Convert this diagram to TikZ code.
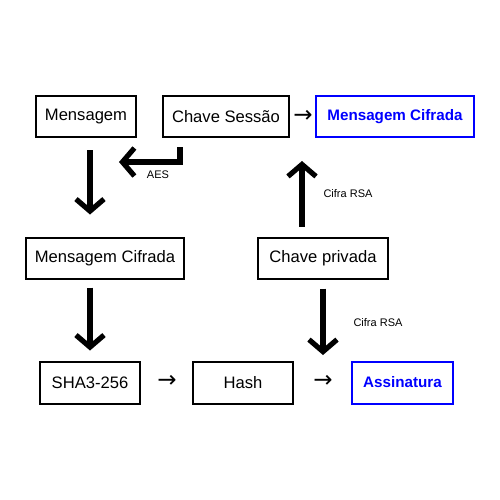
\documentclass[tikz,border=0pt]{standalone}
\usepackage{fontspec}
\setmainfont{Liberation Sans}
\newfontfamily\symf{DejaVu Sans}
\usetikzlibrary{arrows.meta,calc}
\begin{document}
\begin{tikzpicture}[x=0.5pt,y=-0.5pt,
  box/.style={draw, line width=1pt, minimum height=20.5pt, inner sep=0pt,
    font=\fontsize{8.3}{10}\selectfont},
  bluebox/.style={box, draw=blue, text=blue, font=\fontsize{7.6}{10}\selectfont\bfseries},
  big/.style={line width=2.6pt, -{Straight Barb[length=6pt,width=14pt]}},
  lab/.style={font=\fontsize{5.5}{7}\selectfont},
  tarrow/.style={font=\symf\fontsize{11.5}{12}\selectfont, inner sep=0pt}]
\useasboundingbox (0,0) rectangle (500,500);
\fill[white] (0,0) rectangle (500,500);
\node[box, minimum width=50pt] (m1) at (86,116.5) {Mensagem};
\node[box, minimum width=63pt] (cs) at (226,116.5) {Chave Sessão};
\node[bluebox, minimum width=79pt] (mc1) at (395,116.5) {Mensagem Cifrada};
\node[box, minimum width=79pt] (mc2) at (105,258) {Mensagem Cifrada};
\node[box, minimum width=65pt] (cp) at (323,258) {Chave privada};
\node[box, minimum width=50pt, minimum height=21pt] (sha) at (90,382.5) {SHA3-256};
\node[box, minimum width=50pt, minimum height=21pt] (hash) at (243,382.5) {Hash};
\node[bluebox, minimum width=50.5pt, minimum height=21pt] (ass) at (402.5,382.5) {Assinatura};
\node[tarrow] (t1) at (303,116) {→};
\node[tarrow] (t2) at (167,381.5) {→};
\node[tarrow] (t3) at (323,381.5) {→};
\draw[big] ($(m1.south)+(4,12)$) -- ($(mc2.north)+(-15,-22)$);
\draw[big, line join=miter] ($(cs.south)+(-46,9)$) |- ($(m1.east)+(-18,45.5)$);
\node[lab] (aes) at (158,175) {AES};
\draw[big] ($(cp.north)+(-21,-10)$) -- ($(mc1.south)+(-93,23)$);
\node[lab] (rsa1) at (348,194) {Cifra RSA};
\draw[big] ($(mc2.south)+(-15,8)$) -- ($(sha.north)+(0,-10)$);
\draw[big] ($(cp.south)+(0,9)$) -- ($(ass.north)+(-79.5,-5.5)$);
\node[lab] (rsa2) at (378,323) {Cifra RSA};
\end{tikzpicture}
\end{document}
